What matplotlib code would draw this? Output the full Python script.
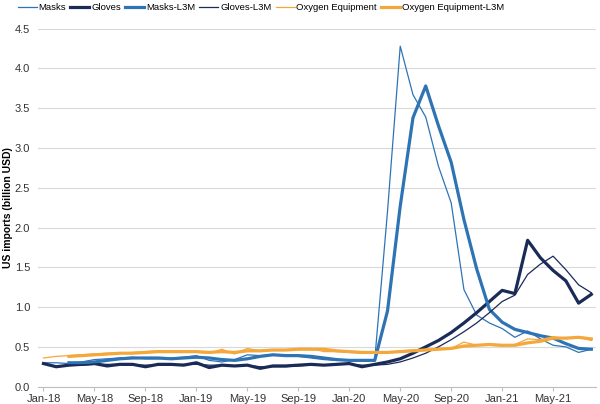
import numpy as np
import matplotlib
matplotlib.use("Agg")
import matplotlib.pyplot as plt

nan = np.nan
months = list(range(44))  # Jan-18 .. Aug-21
tick_pos = [0, 4, 8, 12, 16, 20, 24, 28, 32, 36, 40]
tick_labels = ["Jan-18", "May-18", "Sep-18", "Jan-19", "May-19", "Sep-19",
               "Jan-20", "May-20", "Sep-20", "Jan-21", "May-21"]

masks = [0.30, 0.30, 0.29, 0.31, 0.34, 0.35, 0.36, 0.37, 0.35, 0.35, 0.36, 0.37,
         0.39, 0.33, 0.31, 0.34, 0.40, 0.39, 0.40, 0.39, 0.38, 0.36, 0.34, 0.33,
         0.33, 0.32, 0.34, 2.20, 4.28, 3.67, 3.39, 2.77, 2.31, 1.22, 0.90, 0.80,
         0.73, 0.62, 0.70, 0.60, 0.52, 0.50, 0.43, 0.47]
gloves = [0.29, 0.25, 0.27, 0.28, 0.29, 0.26, 0.28, 0.28, 0.25, 0.28, 0.28, 0.27,
          0.30, 0.24, 0.27, 0.26, 0.27, 0.23, 0.26, 0.26, 0.27, 0.28, 0.27, 0.28,
          0.29, 0.25, 0.28, 0.31, 0.35, 0.42, 0.50, 0.58, 0.68, 0.80, 0.93, 1.07,
          1.21, 1.17, 1.84, 1.62, 1.46, 1.33, 1.05, 1.16]
masks_l3m = [nan, nan, 0.30, 0.30, 0.31, 0.33, 0.35, 0.36, 0.36, 0.36, 0.35, 0.36,
             0.37, 0.36, 0.34, 0.33, 0.35, 0.38, 0.40, 0.39, 0.39, 0.38, 0.36, 0.34,
             0.33, 0.33, 0.33, 0.95, 2.27, 3.38, 3.78, 3.28, 2.82, 2.10, 1.48, 0.97,
             0.81, 0.72, 0.68, 0.64, 0.61, 0.54, 0.48, 0.47]
gloves_l3m = [nan, nan, 0.27, 0.27, 0.28, 0.28, 0.28, 0.27, 0.27, 0.27, 0.27, 0.28,
              0.28, 0.27, 0.27, 0.26, 0.27, 0.25, 0.25, 0.25, 0.26, 0.27, 0.27, 0.28,
              0.28, 0.27, 0.27, 0.28, 0.31, 0.36, 0.42, 0.50, 0.59, 0.69, 0.80, 0.93,
              1.07, 1.15, 1.41, 1.54, 1.64, 1.47, 1.28, 1.18]
oxygen = [0.36, 0.38, 0.39, 0.40, 0.41, 0.42, 0.42, 0.43, 0.44, 0.45, 0.44, 0.44,
          0.43, 0.42, 0.47, 0.41, 0.48, 0.45, 0.46, 0.46, 0.48, 0.48, 0.44, 0.44,
          0.43, 0.42, 0.44, 0.43, 0.45, 0.46, 0.47, 0.48, 0.48, 0.56, 0.52, 0.52,
          0.51, 0.53, 0.60, 0.59, 0.63, 0.60, 0.62, 0.58]
oxygen_l3m = [nan, nan, 0.38, 0.39, 0.40, 0.41, 0.42, 0.42, 0.43, 0.44, 0.44, 0.44,
              0.44, 0.43, 0.44, 0.43, 0.45, 0.45, 0.46, 0.46, 0.47, 0.47, 0.47, 0.45,
              0.44, 0.43, 0.43, 0.43, 0.44, 0.45, 0.46, 0.47, 0.48, 0.51, 0.52, 0.53,
              0.52, 0.52, 0.55, 0.57, 0.61, 0.61, 0.62, 0.60]

BLUE = "#2E74B5"
NAVY = "#1A2B57"
ORANGE = "#F4A73B"

plt.rcParams['font.family'] = ['Liberation Sans', 'DejaVu Sans']

fig = plt.figure(figsize=(6.0, 4.04), dpi=100)
ax = fig.add_axes([0.064, 0.043, 0.929, 0.886])

ax.plot(months, masks, color=BLUE, lw=0.9, label="Masks")
ax.plot(months, gloves, color=NAVY, lw=2.3, label="Gloves")
ax.plot(months, masks_l3m, color=BLUE, lw=2.3, label="Masks-L3M")
ax.plot(months, gloves_l3m, color=NAVY, lw=0.9, label="Gloves-L3M")
ax.plot(months, oxygen, color=ORANGE, lw=0.9, label="Oxygen Equipment")
ax.plot(months, oxygen_l3m, color=ORANGE, lw=2.3, label="Oxygen Equipment-L3M")

ax.set_xlim(-0.4, 43.35)
ax.set_ylim(0, 4.5)
yt = np.arange(0, 4.51, 0.5)
ax.set_yticks(yt)
ax.set_yticklabels([f"{v:.1f}" for v in yt], fontsize=8, color="#333333")
ax.set_xticks(tick_pos)
ax.set_xticklabels(tick_labels, fontsize=8, color="#333333")
ax.tick_params(axis='y', length=0, pad=6)
ax.tick_params(axis='x', length=3, color="#BFBFBF", pad=2)
ax.grid(axis='y', color="#D9D9D9", lw=0.8)
ax.set_axisbelow(True)
for s in ["left", "right", "top"]:
    ax.spines[s].set_visible(False)
ax.spines["bottom"].set_color("#BFBFBF")

ax.set_ylabel("US imports (billion USD)", fontsize=7.5, fontweight="bold")
ax.yaxis.set_label_coords(-0.046, 0.5)

fig.legend(loc="upper center", bbox_to_anchor=(0.435, 1.008), ncol=6, frameon=False,
           fontsize=6.8, handlelength=2.0, handletextpad=0.2, columnspacing=0.45,
           borderpad=0.2)

fig.savefig("out.png", dpi=100)
